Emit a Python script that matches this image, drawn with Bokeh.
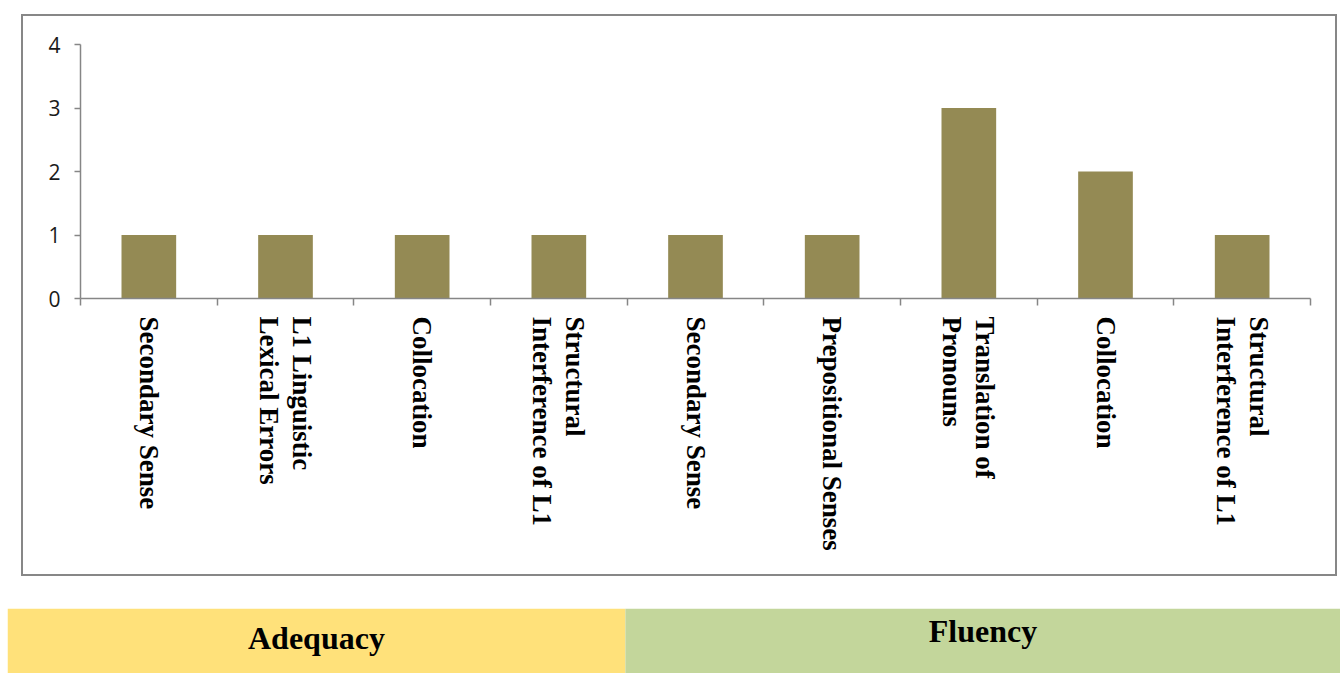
import math
import numpy as np
from bokeh.plotting import figure
from bokeh.layouts import column
from bokeh.models import Range1d, FixedTicker
from bokeh.embed import file_html
from bokeh.resources import INLINE

# ---- data ----
categories = [
    "Secondary Sense",
    "L1 Linguistic\nLexical Errors",
    "Collocation",
    "Structural\nInterference of L1",
    "Secondary Sense",
    "Prepositional Senses",
    "Translation of\nPronouns",
    "Collocation",
    "Structural\nInterference of L1",
]
counts = [1, 1, 1, 1, 1, 1, 3, 2, 1]
groups = ["Adequacy", "Fluency"]
group_sizes = [4, 5]
y_ticks = [0, 1, 2, 3, 4]

BAR = "#948A54"
AXIS = "#868686"
band_colors = ["#FFE17A", "#C3D69B"]

n = len(categories)
centers = (np.arange(n) + 0.5).tolist()
bounds = np.arange(n + 1).tolist()

# ---- chart ----
CW, CH = 1316, 562
p = figure(width=CW, height=CH, output_backend="svg", toolbar_location=None,
           x_range=Range1d(0, n), y_range=Range1d(min(y_ticks), max(y_ticks)),
           min_border_left=57, min_border_right=29, min_border_top=28,
           min_border_bottom=280)
p.outline_line_color = None
p.grid.visible = False
p.background_fill_color = "white"
p.border_fill_color = "white"
p.styles = {"border": "2px solid #878787", "box-sizing": "border-box"}
p.margin = (14, 0, 0, 21)

p.vbar(x=centers, top=counts, width=0.4, bottom=0, fill_color=BAR,
       line_color=None)

xa = p.xaxis[0]
xa.ticker = FixedTicker(ticks=centers, minor_ticks=bounds)
xa.major_label_overrides = {c: lab for c, lab in zip(centers, categories)}
xa.major_label_orientation = -math.pi / 2
xa.major_tick_line_color = None
xa.major_tick_out = 0
xa.major_tick_in = 0
xa.minor_tick_line_color = AXIS
xa.minor_tick_line_width = 1.5
xa.minor_tick_out = 7
xa.minor_tick_in = 0
xa.axis_line_color = AXIS
xa.axis_line_width = 1.5
xa.major_label_standoff = 11
xa.major_label_text_font = "Liberation Serif"
xa.major_label_text_font_style = "bold"
xa.major_label_text_font_size = "27px"
xa.major_label_text_color = "black"
xa.major_label_text_line_height = 1.1

ya = p.yaxis[0]
ya.ticker = FixedTicker(ticks=y_ticks)
ya.minor_tick_line_color = None
ya.major_tick_out = 6
ya.major_tick_in = 0
ya.major_tick_line_color = AXIS
ya.major_tick_line_width = 1.5
ya.axis_line_color = AXIS
ya.axis_line_width = 1.5
ya.major_label_standoff = 14
ya.major_label_text_font = "Open Sans"
ya.major_label_text_font_size = "21px"
ya.major_label_text_color = "#1a1a1a"

# ---- group bands (same category scale as the chart) ----
BL, BW, BH = 7, 1333, 65
k = (1306 - 80) / n          # px per category in the chart
x0 = (BL - 80) / k
x1 = (BL + BW - 80) / k
b = figure(width=BW, height=BH, output_backend="svg",
           toolbar_location=None,
           x_range=Range1d(x0, x1), y_range=Range1d(0, 1),
           x_axis_type=None, y_axis_type=None,
           min_border_left=0, min_border_right=0, min_border_top=0,
           min_border_bottom=0)
b.outline_line_color = None
b.grid.visible = False
b.margin = (32, 0, 0, BL)

edges = [x0] + np.cumsum(group_sizes).tolist()
edges[-1] = x1
lefts = edges[:-1]
rights = edges[1:]
b.quad(left=lefts, right=rights, bottom=0, top=1,
       fill_color=band_colors, line_color=None)
mids = [(l + r) / 2 for l, r in zip(lefts, rights)]
b.text(x=mids, y=[0.54, 0.65], text=groups, text_align="center",
       text_baseline="middle", text_font="Liberation Serif",
       text_font_style="bold", text_font_size="32px", text_color="black")

layout = column(column(p), column(b), spacing=0)
open("out.html", "w").write(file_html(layout, INLINE))
